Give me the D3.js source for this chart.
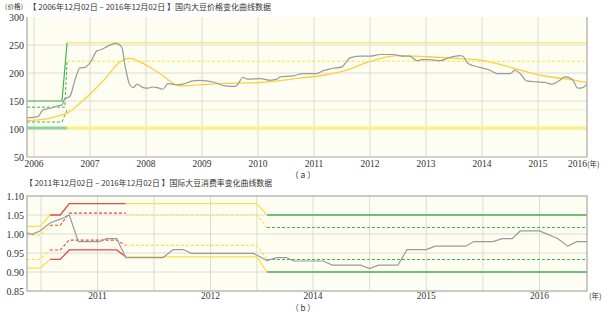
<!DOCTYPE html>
<html>
<head>
<meta charset="utf-8">
<script src="https://cdn.jsdelivr.net/npm/d3@7"></script>
<style>
body { margin: 0; background: #fff; }
text { font-family: "Liberation Serif", "DejaVu Serif", serif; fill: #333; }
.cjk { font-family: "Noto Sans CJK SC", "Liberation Serif", serif; }
</style>
</head>
<body>
<script>
// ---- top chart data: domestic soybean price ----
var priceYears = [2005.875, 2006.07, 2006.16, 2006.29, 2006.41, 2006.5, 2006.55, 2006.64, 2006.73, 2006.82, 2006.91, 2007.0,
    2007.13, 2007.18, 2007.32, 2007.45, 2007.5, 2007.57, 2007.63, 2007.71, 2007.77, 2007.84, 2007.95, 2008.04, 2008.11,
    2008.2, 2008.3, 2008.39, 2008.55, 2008.66, 2008.84, 2008.96, 2009.2, 2009.41, 2009.59, 2009.64, 2009.73, 2009.82,
    2010.04, 2010.21, 2010.34, 2010.39, 2010.63, 2010.8, 2011.05, 2011.16, 2011.32, 2011.5, 2011.57, 2011.64, 2011.82,
    2012.0, 2012.18, 2012.41, 2012.59, 2012.71, 2012.84, 2012.93, 2013.04, 2013.25, 2013.43, 2013.61, 2013.66, 2013.75,
    2013.96, 2014.14, 2014.27, 2014.5, 2014.59, 2014.68, 2014.8, 2014.98, 2015.13, 2015.25, 2015.39, 2015.48, 2015.61,
    2015.71, 2015.8, 2015.875];
var priceValues = [120, 122, 134, 137, 141, 143, 154, 158, 187, 209, 210, 218,
    240, 241, 248, 253, 252, 245, 211, 179, 174, 180, 174, 173, 175,
    174, 171, 181, 179, 180, 186, 187, 184, 177, 176, 180, 192, 189,
    190, 187, 189, 193, 195, 199, 199, 204, 208, 211, 219, 227, 230,
    230, 233, 233, 230, 230, 222, 224, 224, 222, 228, 231, 230, 217,
    210, 205, 199, 199, 205, 199, 186, 184, 183, 180, 187, 193, 189,
    173, 174, 180];

var trendYears = [2005.875, 2006.16, 2006.43, 2006.64, 2006.82, 2007.05, 2007.3, 2007.5, 2007.71, 2007.89, 2008.25, 2008.61,
    2009.27, 2010.04, 2010.75, 2011.16, 2011.64, 2011.95, 2012.48, 2013.02, 2013.55, 2013.96, 2014.63, 2015.04, 2015.52, 2015.875];
var trendValues = [115, 117, 123, 131, 146, 167, 193, 217, 226, 220, 199, 177,
    181, 183, 191, 196, 207, 219, 231, 229, 226, 223, 207, 196, 189, 183];

// threshold lines of the top chart, [year, value]
var topSolidGreen = [[2005.875, 150], [2006.5, 150], [2006.59, 254]];
var topSolidYellow = [[2006.59, 254], [2015.875, 254]];
var topDashGreenHi = [[2005.875, 139], [2006.55, 139], [2006.59, 221]];
var topDashYellowHi = [[2006.59, 221], [2015.875, 221]];
var topDashGreenLo = [[2005.875, 112.5], [2006.5, 112.5], [2006.59, 134]];
var topFaintYellowLo = [[2006.59, 134], [2015.875, 134]];
var topBaseGreen = [[2005.875, 102], [2006.59, 102]];
var topBaseYellow = [[2006.59, 102], [2015.875, 102]];

var topYearTicks = [2006, 2007, 2008, 2009, 2010, 2011, 2012, 2013, 2014, 2015];
var topValueTicks = [50, 100, 150, 200, 250, 300];

// ---- bottom chart data: international consumption rate ----
var rateYears = [2010.376, 2010.42, 2010.49, 2010.58, 2010.67, 2010.75, 2010.83, 2011.02, 2011.08, 2011.17, 2011.25,
    2011.58, 2011.67, 2011.76, 2011.83, 2012.38, 2012.5, 2012.82, 2013.14, 2013.36, 2014.09, 2014.17, 2014.42,
    2014.5, 2014.58, 2014.75, 2014.83, 2015.0, 2015.08, 2015.35, 2015.42, 2015.59, 2015.67, 2015.76, 2015.83,
    2016.0, 2016.16, 2016.25, 2016.33, 2016.42];
var rateValues = [1.003, 0.999, 1.008, 1.029, 1.039, 1.05, 0.98, 0.98, 0.988, 0.988, 0.938,
    0.938, 0.959, 0.959, 0.949, 0.949, 0.93, 0.938, 0.938, 0.929, 0.929, 0.918, 0.918,
    0.909, 0.918, 0.918, 0.959, 0.959, 0.968, 0.968, 0.98, 0.98, 0.988, 0.988, 1.008,
    1.008, 0.988, 0.968, 0.98, 0.98];

var botUpperSolid = {
    yellowA: [[2010.376, 1.02], [2010.49, 1.02], [2010.58, 1.05]],
    red: [[2010.58, 1.05], [2010.67, 1.05], [2010.75, 1.08], [2011.25, 1.08]],
    yellowB: [[2011.25, 1.08], [2012.41, 1.08], [2012.5, 1.05]],
    green: [[2012.5, 1.05], [2016.42, 1.05]]
};
var botUpperDash = {
    yellowA: [[2010.376, 0.997], [2010.49, 0.997], [2010.58, 1.023]],
    red: [[2010.58, 1.023], [2010.67, 1.023], [2010.75, 1.055], [2011.25, 1.055]],
    yellowB: [[2011.25, 1.05], [2012.41, 1.05], [2012.5, 1.017]],
    green: [[2012.5, 1.017], [2016.42, 1.017]]
};
var botLowerDash = {
    yellowA: [[2010.376, 0.933], [2010.49, 0.933], [2010.58, 0.958]],
    red: [[2010.58, 0.958], [2010.67, 0.958], [2010.75, 0.984], [2011.17, 0.984], [2011.25, 0.97]],
    yellowB: [[2011.25, 0.97], [2012.41, 0.97], [2012.5, 0.933]],
    green: [[2012.5, 0.933], [2016.42, 0.933]]
};
var botLowerSolid = {
    yellowA: [[2010.376, 0.91], [2010.49, 0.91], [2010.58, 0.933]],
    red: [[2010.58, 0.933], [2010.67, 0.933], [2010.75, 0.958], [2011.17, 0.958], [2011.25, 0.94]],
    yellowB: [[2011.25, 0.94], [2012.41, 0.94], [2012.5, 0.90]],
    green: [[2012.5, 0.90], [2016.42, 0.90]]
};

var botYearTicks = [2011, 2012, 2014, 2015, 2016];
var botGridYears = [2010.5, 2011, 2011.5, 2012, 2012.41, 2014, 2014.5, 2015, 2015.5, 2016];
var botValueTicks = [0.85, 0.90, 0.95, 1.00, 1.05, 1.10];

var C = { green: '#40b554', yellow: '#f9e43c', gold: '#f8d23c', red: '#ea4840', gray: '#9a9a9a', grid: '#dcdcd4', bg: '#fdfdf2' };

var svg = d3.select('body').append('svg')
    .attr('width', 607)
    .attr('height', 312);

// ================= top chart =================
var xTop = d3.scaleLinear().domain([2005.875, 2015.875]).range([27, 587]);
var yTop = d3.scaleLinear().domain([50, 300]).range([157, 17]);

svg.append('rect').attr('x', 27).attr('y', 17).attr('width', 560).attr('height', 140).attr('fill', C.bg);

svg.selectAll('.tgv').data(topYearTicks).enter().append('line')
    .attr('x1', d => xTop(d)).attr('x2', d => xTop(d))
    .attr('y1', 17).attr('y2', 157)
    .attr('stroke', C.grid).attr('stroke-width', 1);
svg.selectAll('.tgh').data(topValueTicks.slice(1, 5)).enter().append('line')
    .attr('x1', 27).attr('x2', 587)
    .attr('y1', d => yTop(d)).attr('y2', d => yTop(d))
    .attr('stroke', C.grid).attr('stroke-width', 1);

var lineTop = d3.line().x(d => xTop(d[0])).y(d => yTop(d[1]));

function drawTop(pts, color, width, dash) {
    svg.append('path').datum(pts).attr('d', lineTop)
        .attr('fill', 'none').attr('stroke', color).attr('stroke-width', width)
        .attr('stroke-dasharray', dash || null);
}

drawTop(topFaintYellowLo, '#fbe8c2', 1);
drawTop(topBaseGreen, '#8fd39a', 3);
drawTop(topBaseYellow, '#fdf07c', 3);
drawTop(topDashGreenHi, C.green, 1, '3,2');
drawTop(topDashYellowHi, C.yellow, 1, '3,2');
drawTop(topDashGreenLo, C.green, 1, '3,2');
drawTop(topSolidGreen, C.green, 1.2);
drawTop(topSolidYellow, C.yellow, 1.2);

svg.append('path')
    .datum(trendYears.map((t, i) => [t, trendValues[i]]))
    .attr('d', d3.line().x(d => xTop(d[0])).y(d => yTop(d[1])).curve(d3.curveMonotoneX))
    .attr('fill', 'none').attr('stroke', C.gold).attr('stroke-width', 1.3);

svg.append('path')
    .datum(priceYears.map((t, i) => [t, priceValues[i]]))
    .attr('d', d3.line().x(d => xTop(d[0])).y(d => yTop(d[1])).curve(d3.curveMonotoneX))
    .attr('fill', 'none').attr('stroke', C.gray).attr('stroke-width', 1.2);

// frame
svg.append('path').attr('d', 'M27,17V157H587V17').attr('fill', 'none').attr('stroke', '#a8a8a8').attr('stroke-width', 1.2);

svg.selectAll('.tyl').data(topValueTicks).enter().append('text')
    .attr('x', 24).attr('y', d => yTop(d) + 3.5)
    .attr('text-anchor', 'end').attr('font-size', 10)
    .text(d => d);
svg.selectAll('.txl').data(topYearTicks).enter().append('text')
    .attr('x', d => xTop(d)).attr('y', 166.5)
    .attr('text-anchor', 'middle').attr('font-size', 9.5)
    .text(d => d);
svg.append('text').attr('x', 587).attr('y', 166.5).attr('text-anchor', 'end').attr('font-size', 9.5).text('2016');
svg.append('text').attr('class', 'cjk').attr('x', 587).attr('y', 166.5).attr('font-size', 7.5).text('(年)');

svg.append('text').attr('class', 'cjk').attr('x', 1).attr('y', 9).attr('font-size', 6.5).text('（价格）');
svg.append('text').attr('class', 'cjk').attr('x', 28.5).attr('y', 9.5).attr('font-size', 8)
    .text('【 2006年12月02日 – 2016年12月02日 】国内大豆价格变化曲线数据');
svg.append('text').attr('class', 'cjk').attr('x', 303).attr('y', 177.5).attr('text-anchor', 'middle').attr('font-size', 8.5).text('（ a ）');

// ================= bottom chart =================
var xBot = d3.scaleLinear().domain([2010.376, 2012.5, 2014.0, 2016.42]).range([27, 267, 313, 587]);
var yBot = d3.scaleLinear().domain([0.85, 1.10]).range([291, 196]);

svg.append('rect').attr('x', 27).attr('y', 196).attr('width', 560).attr('height', 95).attr('fill', C.bg);

svg.selectAll('.bgv').data(botGridYears).enter().append('line')
    .attr('x1', d => xBot(d)).attr('x2', d => xBot(d))
    .attr('y1', 196).attr('y2', 291)
    .attr('stroke', C.grid).attr('stroke-width', 1);
svg.selectAll('.bgh').data(botValueTicks.slice(1, 5)).enter().append('line')
    .attr('x1', 27).attr('x2', 587)
    .attr('y1', d => yBot(d)).attr('y2', d => yBot(d))
    .attr('stroke', C.grid).attr('stroke-width', 1);

var lineBot = d3.line().x(d => xBot(d[0])).y(d => yBot(d[1]));

function drawBand(band, dash) {
    var cols = { yellowA: C.yellow, red: C.red, yellowB: C.yellow, green: C.green };
    Object.keys(cols).forEach(function(k) {
        svg.append('path').datum(band[k]).attr('d', lineBot)
            .attr('fill', 'none').attr('stroke', cols[k]).attr('stroke-width', dash ? 1.1 : 1.3)
            .attr('stroke-dasharray', dash || null);
    });
}
drawBand(botUpperSolid);
drawBand(botUpperDash, '3,2');
drawBand(botLowerDash, '3,2');
drawBand(botLowerSolid);

svg.append('path')
    .datum(rateYears.map((t, i) => [t, rateValues[i]]))
    .attr('d', lineBot)
    .attr('fill', 'none').attr('stroke', C.gray).attr('stroke-width', 1.2);

svg.append('rect').attr('x', 27).attr('y', 196).attr('width', 560).attr('height', 95)
    .attr('fill', 'none').attr('stroke', '#a8a8a8').attr('stroke-width', 1.2);

svg.selectAll('.byl').data(botValueTicks).enter().append('text')
    .attr('x', 24).attr('y', d => yBot(d) + 3.5)
    .attr('text-anchor', 'end').attr('font-size', 10)
    .text(d => d.toFixed(2));
svg.selectAll('.bxl').data(botYearTicks).enter().append('text')
    .attr('x', d => xBot(d)).attr('y', 298.5)
    .attr('text-anchor', 'middle').attr('font-size', 9.5)
    .text(d => d);
svg.append('text').attr('class', 'cjk').attr('x', 589).attr('y', 298.5).attr('font-size', 7.5).text('(年)');

svg.append('text').attr('class', 'cjk').attr('x', 25).attr('y', 186).attr('font-size', 7.9)
    .text('【 2011年12月02日 – 2016年12月02日 】国际大豆消费率变化曲线数据');
svg.append('text').attr('class', 'cjk').attr('x', 303).attr('y', 310.5).attr('text-anchor', 'middle').attr('font-size', 8).text('（ b ）');
</script>
</body>
</html>
